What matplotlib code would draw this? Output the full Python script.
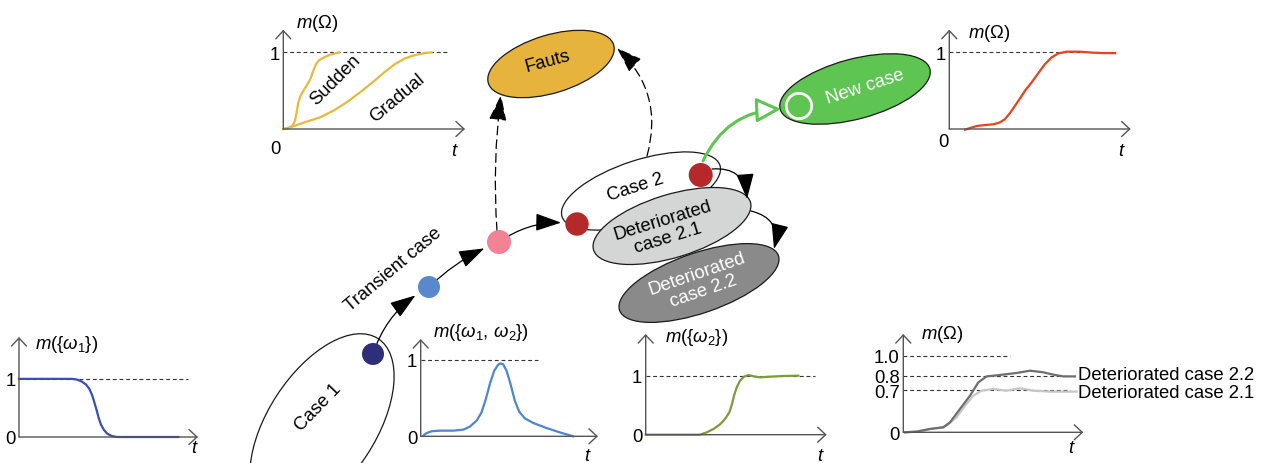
import numpy as np
import matplotlib.pyplot as plt
from matplotlib.patches import Ellipse, Circle, FancyArrowPatch

plt.rcParams['font.family'] = ['Liberation Sans', 'DejaVu Sans']
plt.rcParams['mathtext.fontset'] = 'custom'
plt.rcParams['mathtext.rm'] = 'Liberation Sans'
plt.rcParams['mathtext.it'] = 'Liberation Sans:italic'
plt.rcParams['mathtext.bf'] = 'Liberation Sans:bold'

W, H = 1264, 464
fs = 13.3

# ---- curve data (t in arbitrary time units, m = mass of the focal set) ----
w1_t = [0, 5.27, 5.77, 6.27, 6.7, 7.03, 7.3, 7.53, 7.77, 7.97, 8.2, 8.5, 8.83, 9.27, 9.77, 15.93]
w1_m = [1, 1, 0.989, 0.954, 0.903, 0.829, 0.726, 0.6, 0.457, 0.326, 0.211, 0.12, 0.057, 0.017, 0, 0]

sudden_t = [0, 0.5, 0.93, 1.17, 1.33, 1.5, 1.73, 2.07, 2.43, 2.73, 3.0, 3.27, 3.6, 4.07, 4.67, 5.6]
sudden_m = [0, 0.009, 0.043, 0.109, 0.217, 0.348, 0.435, 0.513, 0.587, 0.661, 0.761, 0.848, 0.9, 0.935, 0.97, 1.0]
gradual_t = [0, 0.5, 1.17, 2.33, 3.67, 5.0, 6.33, 7.67, 9.0, 10.17, 11.17, 12.17, 13.17, 14.17, 14.83]
gradual_m = [0, 0.017, 0.043, 0.096, 0.152, 0.239, 0.348, 0.478, 0.617, 0.748, 0.848, 0.922, 0.965, 0.991, 1.0]

new_t = [1.57, 2.07, 2.73, 3.57, 4.4, 5.07, 5.57, 6.07, 6.57, 7.07, 7.57, 8.23, 8.9, 9.57, 10.23, 10.9,
         11.73, 13.07, 14.4, 15.4, 16.57]
new_m = [-0.009, 0.013, 0.039, 0.052, 0.061, 0.087, 0.13, 0.209, 0.304, 0.4, 0.5, 0.609, 0.73, 0.848,
         0.935, 0.987, 1.009, 1.009, 0.996, 0.991, 0.991]

w12_t = [0.27, 0.6, 1.1, 1.93, 3.27, 4.27, 4.93, 5.6, 6.1, 6.53, 6.93, 7.37, 7.77, 8.0, 8.27, 8.6, 9.0,
         9.43, 9.87, 10.43, 11.27, 12.6, 13.93, 15.27]
w12_m = [0.009, 0.044, 0.066, 0.074, 0.074, 0.087, 0.127, 0.205, 0.314, 0.489, 0.686, 0.86, 0.939, 0.956,
         0.943, 0.86, 0.686, 0.467, 0.323, 0.236, 0.175, 0.109, 0.052, 0.0]

w2_t = [0, 5.43, 6.1, 6.77, 7.43, 7.93, 8.37, 8.63, 8.83, 9.1, 9.43, 9.83, 10.27, 10.77, 11.43, 12.43, 13.77, 15.27]
w2_m = [0, 0, 0.04, 0.096, 0.175, 0.266, 0.379, 0.52, 0.661, 0.802, 0.915, 0.983, 1.011, 0.989, 0.972,
        0.983, 0.994, 1.0]

det22_t = [0.17, 1.33, 2.67, 4.0, 4.67, 5.67, 6.67, 7.5, 8.33, 9.67, 11.33, 12.67, 14.0, 15.0, 16.0, 17.17]
det22_m = [0, 0.011, 0.055, 0.083, 0.165, 0.386, 0.606, 0.753, 0.795, 0.807, 0.827, 0.85, 0.834, 0.81, 0.795, 0.795]
det21_t = [0.17, 1.33, 2.67, 4.0, 4.33, 5.33, 6.17, 7.0, 7.83, 9.0, 10.33, 11.67, 13.0, 14.67, 17.33]
det21_m = [0, 0.011, 0.055, 0.083, 0.11, 0.248, 0.441, 0.606, 0.689, 0.707, 0.689, 0.712, 0.689, 0.673, 0.673]
det_levels = [0, 0.7, 0.8, 1.0]
det_labels = ['0', '0.7', '0.8', '1.0']
# the sketch spreads the upper levels apart (schematic axis)
det_visual = [0, 0.552, 0.739, 1.0]

axis_col = '#555555'

fig = plt.figure(figsize=(W / 100, H / 100), dpi=100)
ax = fig.add_axes([0, 0, 1, 1])
ax.set_xlim(0, W)
ax.set_ylim(H, 0)
ax.axis('off')


def mini(x0, y0, x1, y1, xmax, ymax):
    # small sketch axes, (x0, y0) origin and (x1, y1) arrow tips in pixels
    a = fig.add_axes([x0 / W, 1 - y0 / H, (x1 - x0) / W, (y0 - y1) / H])
    a.set_xlim(0, xmax)
    a.set_ylim(0, ymax)
    a.patch.set_alpha(0)
    for s in a.spines.values():
        s.set_visible(False)
    a.set_xticks([])
    a.tick_params(axis='y', length=0, labelsize=fs, pad=2.5)
    arr = dict(arrowstyle='->,head_length=0.58,head_width=0.54', color=axis_col, lw=1.0,
               shrinkA=0, shrinkB=0, mutation_scale=10)
    a.annotate('', xy=(1, 0), xytext=(0, 0), xycoords='axes fraction', arrowprops=arr, annotation_clip=False)
    a.annotate('', xy=(0, 1), xytext=(0, 0), xycoords='axes fraction', arrowprops=arr, annotation_clip=False)
    return a


def dash(a, x2, y):
    a.plot([0, x2], [y, y], ls=(0, (3.5, 2.5)), color='#333333', lw=0.8, clip_on=False)


# chart: m({w1})
a1 = mini(19, 438, 198, 338, 17.9, 1.72)
dash(a1, 16.9, 1)
a1.plot(w1_t, w1_m, color='#3a4cbc', lw=1.6, clip_on=False)
a1.set_yticks([0, 1])
ax.text(67, 345, r'$m(\{\omega_1\})$', fontsize=fs, ha='center', va='center')
ax.text(195, 449, r'$t$', fontsize=fs, ha='center', va='center')

# chart: sudden / gradual
a2 = mini(283.3, 130, 465, 30.7, 18.17, 1.296)
dash(a2, 16.33, 1)
a2.plot(sudden_t, sudden_m, color='#e8b93e', lw=1.6, clip_on=False)
a2.plot(gradual_t, gradual_m, color='#e8b93e', lw=1.6, clip_on=False)
a2.set_yticks([1])
ax.text(275, 150, '0', fontsize=fs, ha='center', va='center')
ax.text(317, 23, r'$m(\Omega)$', fontsize=fs, ha='center', va='center')
ax.text(455, 152, r'$t$', fontsize=fs, ha='center', va='center')
ax.text(335, 80, 'Sudden', fontsize=fs, ha='center', va='center', rotation=45, rotation_mode='anchor')
ax.text(397, 98, 'Gradual', fontsize=fs, ha='center', va='center', rotation=40, rotation_mode='anchor')

# chart: new case
a3 = mini(949.3, 130, 1130.7, 30.7, 18.13, 1.296)
dash(a3, 16.57, 1)
a3.plot(new_t, new_m, color='#e8421c', lw=1.6, clip_on=False)
a3.set_yticks([1])
ax.text(943, 143, '0', fontsize=fs, ha='center', va='center')
ax.text(989, 33, r'$m(\Omega)$', fontsize=fs, ha='center', va='center')
ax.text(1122, 152, r'$t$', fontsize=fs, ha='center', va='center')

# chart: m({w1, w2})
a4 = mini(420.7, 437.3, 598, 340, 17.77, 1.275)
dash(a4, 11.77, 1)
a4.plot(w12_t, w12_m, color='#4c86d2', lw=1.6, clip_on=False)
a4.set_yticks([0, 1])
ax.text(481, 333, r'$m(\{\omega_1,\,\omega_2\})$', fontsize=fs, ha='center', va='center')
ax.text(588, 457, r'$t$', fontsize=fs, ha='center', va='center')

# chart: m({w2})
a5 = mini(645.7, 435.7, 826.7, 335, 18.1, 1.706)
dash(a5, 16.93, 1)
a5.plot(w2_t, w2_m, color='#7b9b3c', lw=1.6, clip_on=False)
a5.set_yticks([0, 1])
ax.text(697, 338, r'$m(\{\omega_2\})$', fontsize=fs, ha='center', va='center')
ax.text(821, 457, r'$t$', fontsize=fs, ha='center', va='center')

# chart: deteriorated cases
vis_in = [-1] + det_levels + [3]
vis_out = [-1] + det_visual + [3]
a6 = mini(903.3, 433.3, 1083.3, 335, 18.0, 1.283)
a6.set_yscale('function', functions=(lambda v: np.interp(v, vis_in, vis_out),
                                     lambda v: np.interp(v, vis_out, vis_in)))
a6.set_ylim(0, 1.283)
dash(a6, 10.67, 1.0)
dash(a6, 16.67, 0.8)
dash(a6, 16.67, 0.7)
a6.plot(det21_t, det21_m, color='#c6c6c6', lw=1.6, clip_on=False)
a6.plot(det22_t, det22_m, color='#6e6e6e', lw=1.6, clip_on=False)
a6.set_yticks(det_levels)
a6.set_yticklabels(det_labels)
a6.yaxis.set_minor_locator(plt.NullLocator())
ax.text(942, 335, r'$m(\Omega)$', fontsize=fs, ha='center', va='center')
ax.text(1072, 449, r'$t$', fontsize=fs, ha='center', va='center')
ax.text(1078, 376, 'Deteriorated case 2.2', fontsize=fs, ha='left', va='center')
ax.text(1078, 394, 'Deteriorated case 2.1', fontsize=fs, ha='left', va='center')


# ---- state diagram ----
def node(xy, w, h, ang, fc, z, label, tc='black', tpos=None, trot=None):
    ax.add_patch(Ellipse(xy, w, h, angle=-ang, fc=fc, ec='#1a1a1a', lw=0.9, zorder=z))
    tx, ty = tpos if tpos else xy
    ax.text(tx, ty, label, fontsize=fs, color=tc, ha='center', va='center', ma='center',
            rotation=trot if trot is not None else ang, rotation_mode='anchor', zorder=z + 0.1,
            linespacing=1.1)


node((322, 426), 206, 108, 57, 'white', 1, 'Case 1', tpos=(318, 408), trot=46)
node((641, 192), 166, 62, 18, 'white', 1, 'Case 2', tpos=(635, 188))
node((699, 284), 168, 60, 19, '#8a8a8a', 1.2, 'Deteriorated\ncase 2.2', tc='white', tpos=(700, 283))
node((672, 227), 164, 63, 17, '#d4d6d6', 1.4, 'Deteriorated\ncase 2.1', tpos=(665, 230))
node((551, 65), 131, 58, 17, '#e6b43c', 1, 'Fauts', tpos=(548, 62), trot=15)
node((855, 90), 155, 60, 15, '#5ec452', 1, 'New case', tc='white', tpos=(865, 87), trot=18)
ax.add_patch(Circle((799, 107), 12.7, fill=False, ec='white', lw=2, zorder=2))
ax.text(393, 270, 'Transient case', fontsize=fs, ha='center', va='center', rotation=40, rotation_mode='anchor')

head = '-|>,head_length=1.6,head_width=0.55'


def link(p, q, rad, sa=0, sb=0, ls='-', col='black', lw=0.9, style=head, fc=None):
    ax.add_patch(FancyArrowPatch(p, q, connectionstyle=f'arc3,rad={rad}', arrowstyle=style,
                                 mutation_scale=10, color=col, fc=fc if fc else col, lw=lw, linestyle=ls,
                                 shrinkA=sa, shrinkB=sb, zorder=3))


link((373, 355), (429, 288), -0.2, sb=11.5)
link((429, 288), (499, 243), -0.1, sb=11.5)
link((499, 243), (577, 225), -0.2, sb=11.5)
link((497, 232), (501, 96), -0.05, ls=(0, (7, 4)))
link((647, 157), (617, 49), 0.3, ls=(0, (7, 4)))
link((712, 170), (747, 200), -0.5)
link((751, 212), (774, 250), -0.5)
link((703, 162), (781, 110), -0.3, col='#5ec452', lw=2.2,
     style='-|>,head_length=1.5,head_width=0.75', fc='white')

dots = [((373, 355), 11, '#2d2f78'), ((429, 288), 11, '#5a88cc'), ((499, 243), 12, '#f28294'),
        ((577, 225), 11.7, '#b5292a'), ((700.7, 176), 12, '#b5292a')]
for c, r, col in dots:
    ax.add_patch(Circle(c, r, fc=col, ec='none', zorder=5))

fig.savefig('out.png', dpi=100)
